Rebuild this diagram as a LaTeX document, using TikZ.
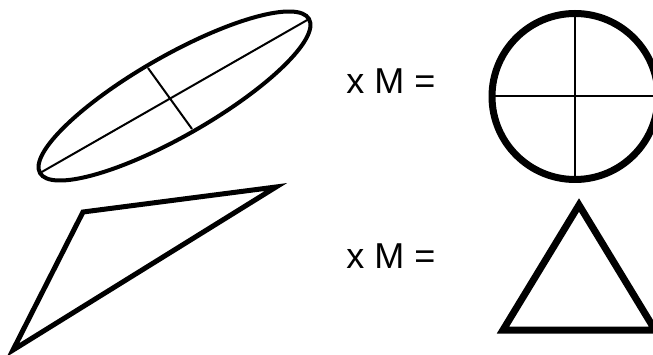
\documentclass[tikz,border=0pt]{standalone}
\usepackage{fontspec}
\setmainfont{Liberation Sans}
\usetikzlibrary{positioning}

\begin{document}
\begin{tikzpicture}[
        x=1pt, y=-1pt,
        axisline/.style={line width=2pt},
        outline/.style={line width=4pt},
        thickline/.style={line width=5pt, line join=miter},
        boldline/.style={line width=7pt, line join=miter},
        mlabel/.style={font=\fontsize{36}{42}\selectfont, anchor=base}
    ]
        \useasboundingbox (0,0) rectangle (653,355);

        % Ellipse with its axes
        \coordinate (ec) at (174.5,96);
        \draw[outline, rotate around={29.8:(ec)}] (ec) ellipse [x radius=155pt, y radius=40pt];
        \coordinate (major1) at (40,173);
        \coordinate (major2) at (309,19);
        \coordinate (minor1) at (148,68);
        \coordinate (minor2) at (192,129);
        \draw[axisline] (major1) -- (major2);
        \draw[axisline] (minor1) -- (minor2);

        % Skewed triangle
        \coordinate (ta) at (83,212);
        \coordinate (tb) at (276,187);
        \coordinate (tc) at (13,350);
        \draw[thickline] (ta) -- (tb) -- (tc) -- cycle;

        % Labels
        \node[mlabel] (mtop) at (391,94) {x M =};
        \node[mlabel] (mbottom) at (391,269) {x M =};

        % Circle with its axes
        \coordinate (cc) at (575,96.5);
        \draw[boldline] (cc) circle [radius=83pt];
        \coordinate (cn) at (575,13);
        \coordinate (cs) at (575,180);
        \coordinate (cw) at (491,96.5);
        \coordinate (ce) at (659,96.5);
        \draw[axisline] (cn) -- (cs);
        \draw[axisline] (cw) -- (ce);

        % Regular triangle
        \coordinate (ra) at (579,205);
        \coordinate (rb) at (503,330);
        \coordinate (rc) at (655,330);
        \draw[boldline] (ra) -- (rb) -- (rc) -- cycle;
    \end{tikzpicture}
\end{document}
